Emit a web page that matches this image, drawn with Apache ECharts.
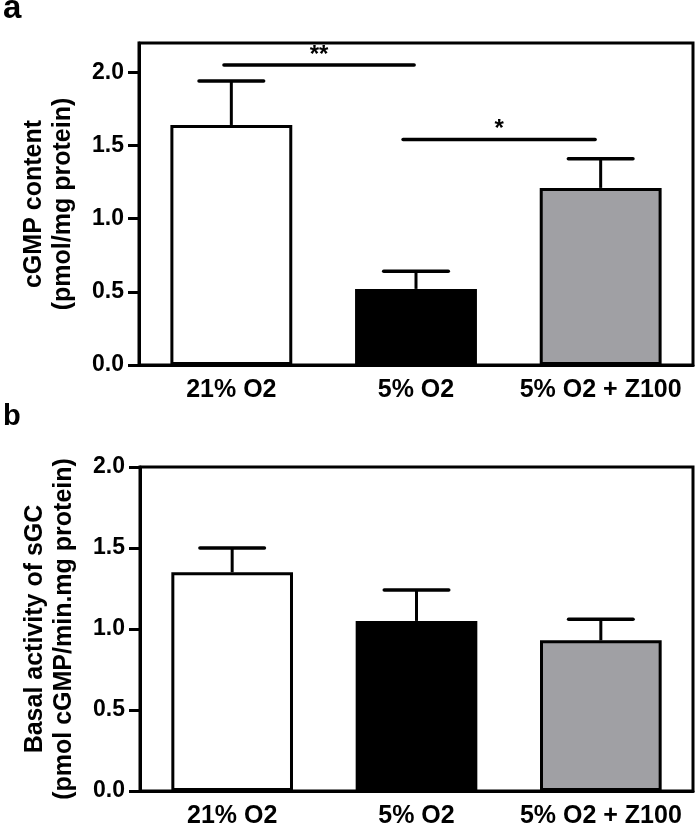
<!DOCTYPE html>
<html>
<head>
<meta charset="utf-8">
<script src="https://cdn.jsdelivr.net/npm/echarts@6/dist/echarts.min.js"></script>
<style>html,body{margin:0;padding:0;background:#fff;}#c{width:700px;height:829px;}</style>
</head>
<body>
<div id="c"></div>
<script>
const categories = ['21% O2', '5% O2', '5% O2 + Z100'];
const cgmpMean = [1.64, 0.52, 1.21];
const cgmpSem = [0.30, 0.12, 0.20];
const sgcMean = [1.35, 1.05, 0.93];
const sgcSem = [0.15, 0.19, 0.13];
const barColors = ['#ffffff', '#000000', '#a0a0a4'];
const yTicks = [0, 0.5, 1.0, 1.5, 2.0];
// significance brackets: [xStart, xEnd (category units), y value, label]
const sigA = [[-0.04, 0.99, 2.05, '**'], [0.93, 1.97, 1.54, '*']];

const FONT = 'Liberation Sans, Arial, sans-serif';

function errRender(params, api) {
  const x = api.value(0), lo = api.value(1), hi = api.value(2);
  const p0 = api.coord([x, lo]);
  const p1 = api.coord([x, hi]);
  const bw = api.size([1, 0])[0];
  const half = bw * 0.175;
  return {
    type: 'group',
    children: [
      {type: 'line', shape: {x1: p0[0], y1: p0[1], x2: p1[0], y2: p1[1]}, style: {stroke: '#000', lineWidth: 3}},
      {type: 'line', shape: {x1: p1[0] - half, y1: p1[1], x2: p1[0] + half, y2: p1[1]}, style: {stroke: '#000', lineWidth: 3.5, lineCap: 'round'}}
    ]
  };
}

function sigRender(params, api) {
  const a = api.coord([api.value(0), api.value(2)]);
  const b = api.coord([api.value(1), api.value(2)]);
  return {
    type: 'group',
    children: [
      {type: 'line', shape: {x1: a[0], y1: a[1], x2: b[0], y2: b[1]}, style: {stroke: '#000', lineWidth: 3.5, lineCap: 'round'}},
      {type: 'text', x: (a[0] + b[0]) / 2, y: a[1] - 10, style: {text: sigA[params.dataIndex][3], fill: '#000', font: 'bold 24px ' + FONT, align: 'center', verticalAlign: 'middle'}}
    ]
  };
}

function barData(means) {
  return means.map((v, i) => ({value: v, itemStyle: {color: barColors[i]}}));
}
function errData(means, sems) {
  return means.map((v, i) => [i, v, v + sems[i]]);
}

function xAxisCfg(gi) {
  return {
    type: 'category', gridIndex: gi, data: categories,
    axisLine: {onZero: false, lineStyle: {color: '#000', width: 3}},
    axisTick: {alignWithLabel: true, length: 10, lineStyle: {color: '#000', width: 3}},
    axisLabel: {interval: 0, hideOverlap: false, color: '#000', fontWeight: 'bold', fontSize: 25, fontFamily: FONT, margin: 13}
  };
}
function yAxisCfg(gi, max, name) {
  return {
    type: 'value', gridIndex: gi, min: 0, max: max, interval: 0.5,
    name: name, nameLocation: 'middle', nameGap: 61,
    nameTextStyle: {color: '#000', fontWeight: 'bold', fontSize: 25, fontFamily: FONT, lineHeight: 29},
    splitLine: {show: false},
    axisLine: {show: true, onZero: false, lineStyle: {color: '#000', width: 3}},
    axisTick: {show: true, length: 11, customValues: yTicks, lineStyle: {color: '#000', width: 3}},
    axisLabel: {color: '#000', fontWeight: 'bold', fontSize: 23, fontFamily: FONT, margin: 15,
      customValues: yTicks, formatter: v => v.toFixed(1)}
  };
}

const chart = echarts.init(document.getElementById('c'), null, {renderer: 'canvas'});
chart.setOption({
  backgroundColor: '#fff',
  animation: false,
  graphic: [
    {type: 'text', x: 3, y: 25, style: {text: 'a', font: 'bold 33px ' + FONT, fill: '#000', verticalAlign: 'bottom'}},
    {type: 'text', x: 3, y: 431, style: {text: 'b', font: 'bold 29px ' + FONT, fill: '#000', verticalAlign: 'bottom'}}
  ],
  grid: [
    {left: 139, right: 7, top: 43, bottom: 464, show: true, borderColor: '#000', borderWidth: 3, backgroundColor: 'transparent'},
    {left: 140, right: 7, top: 467, bottom: 35, show: true, borderColor: '#000', borderWidth: 3, backgroundColor: 'transparent'}
  ],
  xAxis: [
    xAxisCfg(0),
    xAxisCfg(1),
    {type: 'value', gridIndex: 0, min: -0.5, max: 2.5, show: false}
  ],
  yAxis: [
    yAxisCfg(0, 2.2, 'cGMP content\n(pmol/mg protein)'),
    yAxisCfg(1, 2.0, 'Basal activity of sGC\n(pmol cGMP/min.mg protein)')
  ],
  series: [
    {type: 'bar', xAxisIndex: 0, yAxisIndex: 0, barWidth: '66%', data: barData(cgmpMean),
      itemStyle: {borderColor: '#000', borderWidth: 3}, z: 2},
    {type: 'custom', xAxisIndex: 0, yAxisIndex: 0, renderItem: errRender, data: errData(cgmpMean, cgmpSem),
      encode: {x: 0, y: [1, 2]}, z: 3},
    {type: 'custom', xAxisIndex: 2, yAxisIndex: 0, renderItem: sigRender, data: sigA.map(s => [s[0], s[1], s[2]]),
      encode: {x: [0, 1], y: 2}, z: 3},
    {type: 'bar', xAxisIndex: 1, yAxisIndex: 1, barWidth: '66%', data: barData(sgcMean),
      itemStyle: {borderColor: '#000', borderWidth: 3}, z: 2},
    {type: 'custom', xAxisIndex: 1, yAxisIndex: 1, renderItem: errRender, data: errData(sgcMean, sgcSem),
      encode: {x: 0, y: [1, 2]}, z: 3}
  ]
});
</script>
</body>
</html>
